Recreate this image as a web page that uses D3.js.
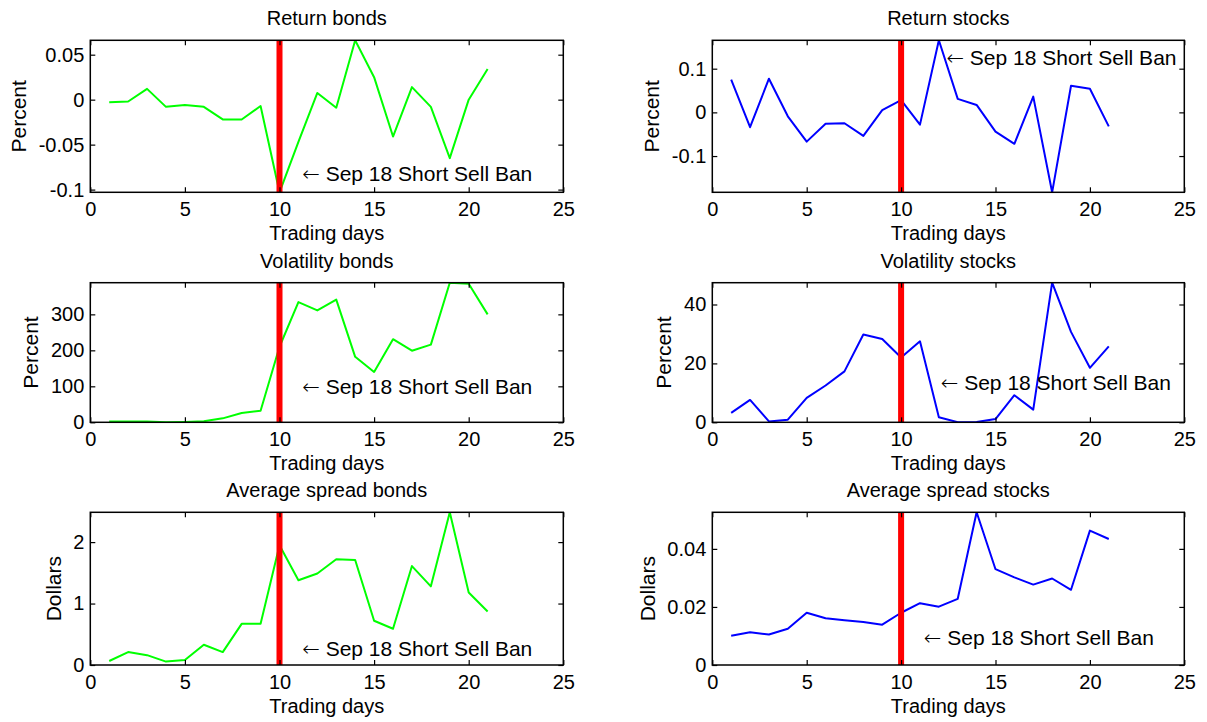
<!DOCTYPE html>
<html>
<head>
<meta charset="utf-8">
<script src="https://cdn.jsdelivr.net/npm/d3@7"></script>
<style>
  html, body { margin: 0; padding: 0; background: #fff; }
  svg { display: block; font-family: "Liberation Sans", Arial, sans-serif; }
</style>
</head>
<body>
<svg id="chart" width="1207" height="722"></svg>
<script>
// ---------- data ----------
const days = [1, 2, 3, 4, 5, 6, 7, 8, 9, 10, 11, 12, 13, 14, 15, 16, 17, 18, 19, 20, 21];
const returnBonds  = [-0.003, -0.002, 0.012, -0.008, -0.006, -0.008, -0.022, -0.022, -0.007, -0.103, -0.047, 0.0075, -0.009, 0.066, 0.025, -0.041, 0.014, -0.008, -0.065, 0.0, 0.034];
const returnStocks = [0.075, -0.034, 0.077, -0.009, -0.067, -0.026, -0.025, -0.054, 0.005, 0.028, -0.028, 0.165, 0.031, 0.017, -0.044, -0.072, 0.036, -0.183, 0.061, 0.054, -0.032];
const volBonds     = [2, 2, 2, 0, 1, 3, 11, 26, 32, 210, 334, 311, 341, 182, 140, 231, 199, 216, 388, 385, 300];
const volStocks    = [3.2, 7.6, 0.3, 0.9, 8.3, 12.5, 17.3, 29.8, 28.3, 22.0, 27.5, 1.7, 0.05, 0.1, 1.1, 9.2, 4.3, 47.4, 30.7, 18.5, 25.8];
const spreadBonds  = [0.065, 0.21, 0.16, 0.055, 0.08, 0.33, 0.21, 0.67, 0.67, 1.95, 1.38, 1.49, 1.72, 1.71, 0.72, 0.59, 1.61, 1.28, 2.485, 1.18, 0.87];
const spreadStocks = [0.0101, 0.0113, 0.0105, 0.0125, 0.018, 0.0161, 0.0154, 0.0148, 0.0139, 0.018, 0.0213, 0.0201, 0.0228, 0.0526, 0.033, 0.0302, 0.0277, 0.0298, 0.0259, 0.0463, 0.0434];

const xTicks = [0, 5, 10, 15, 20, 25];
const xDomain = [0, 25];
const ticksReturnBonds  = [-0.1, -0.05, 0, 0.05];
const ticksReturnStocks = [-0.1, 0, 0.1];
const ticksVolBonds     = [0, 100, 200, 300];
const ticksVolStocks    = [0, 20, 40];
const ticksSpreadBonds  = [0, 1, 2];
const ticksSpreadStocks = [0, 0.02, 0.04];

const titles  = ["Return bonds", "Return stocks", "Volatility bonds", "Volatility stocks", "Average spread bonds", "Average spread stocks"];
const yLabels = ["Percent", "Percent", "Percent", "Percent", "Dollars", "Dollars"];
const xLabel = "Trading days";
const banDay = 10;
const banArrow = "\u2190";
const banText = " Sep 18 Short Sell Ban";
const annotX = [11.2, 12.4, 11.2, 12.1, 11.2, 11.2];
const annotY = [-0.082, 0.125, 99, 13.6, 0.26, 0.0095];

// ---------- layout ----------
const colX = [[90.3, 563.3], [712.3, 1184.3]];
const rowY = [[40.3, 192.3], [282.7, 422.3], [512.3, 665]];
const GREEN = "#00ff00", BLUE = "#0000ff", RED = "#ff0000";
const FS = 20;

const panels = [
  { values: returnBonds,  ticks: ticksReturnBonds,  color: GREEN, col: 0, row: 0 },
  { values: returnStocks, ticks: ticksReturnStocks, color: BLUE,  col: 1, row: 0 },
  { values: volBonds,     ticks: ticksVolBonds,     color: GREEN, col: 0, row: 1 },
  { values: volStocks,    ticks: ticksVolStocks,    color: BLUE,  col: 1, row: 1 },
  { values: spreadBonds,  ticks: ticksSpreadBonds,  color: GREEN, col: 0, row: 2 },
  { values: spreadStocks, ticks: ticksSpreadStocks, color: BLUE,  col: 1, row: 2 }
];

const svg = d3.select("#chart");
const defs = svg.append("defs");

panels.forEach((p, i) => {
  const [x0, x1] = colX[p.col];
  const [y0, y1] = rowY[p.row];
  const x = d3.scaleLinear().domain(xDomain).range([x0, x1]);
  const lo = Math.min(0, d3.min(p.values));
  const hi = d3.max(p.values);
  const y = d3.scaleLinear().domain([lo, hi]).range([y1, y0]);

  const g = svg.append("g");

  defs.append("clipPath").attr("id", "clip" + i)
    .append("rect").attr("x", x0).attr("y", y0).attr("width", x1 - x0).attr("height", y1 - y0);

  // data line
  const line = d3.line().x((d, j) => x(days[j])).y(d => y(d));
  g.append("path")
    .datum(p.values)
    .attr("clip-path", "url(#clip" + i + ")")
    .attr("fill", "none")
    .attr("stroke", p.color)
    .attr("stroke-width", 2)
    .attr("stroke-linejoin", "round")
    .attr("d", line);

  // ban line
  g.append("line")
    .attr("x1", x(banDay)).attr("x2", x(banDay))
    .attr("y1", y0).attr("y2", y1)
    .attr("stroke", RED).attr("stroke-width", 6);

  // axes
  const styleAxis = sel => {
    sel.select(".domain").remove();
    sel.selectAll(".tick line").attr("stroke", "#000").attr("stroke-width", 1.2);
    sel.selectAll(".tick text").attr("fill", "#000").style("font-size", FS + "px");
  };
  g.append("g").attr("transform", `translate(0,${y1})`)
    .call(d3.axisBottom(x).tickValues(xTicks).tickSize(-5).tickSizeOuter(0).tickPadding(10).tickFormat(d => String(d)))
    .call(styleAxis);
  g.append("g").attr("transform", `translate(0,${y0})`)
    .call(d3.axisTop(x).tickValues(xTicks).tickSize(-5).tickSizeOuter(0).tickFormat(""))
    .call(styleAxis);
  const leftAxis = g.append("g").attr("transform", `translate(${x0},0)`)
    .call(d3.axisLeft(y).tickValues(p.ticks).tickSize(-5).tickSizeOuter(0).tickPadding(6).tickFormat(d => String(d)))
    .call(styleAxis);
  g.append("g").attr("transform", `translate(${x1},0)`)
    .call(d3.axisRight(y).tickValues(p.ticks).tickSize(-5).tickSizeOuter(0).tickFormat(""))
    .call(styleAxis);

  // frame
  g.append("rect")
    .attr("x", x0).attr("y", y0).attr("width", x1 - x0).attr("height", y1 - y0)
    .attr("fill", "none").attr("stroke", "#000").attr("stroke-width", 1.5);

  // title
  g.append("text")
    .attr("x", (x0 + x1) / 2).attr("y", y0 - 22).attr("dy", "0.35em")
    .attr("text-anchor", "middle").style("font-size", FS + "px")
    .text(titles[i]);

  // x label
  g.append("text")
    .attr("x", (x0 + x1) / 2).attr("y", y1 + 41).attr("dy", "0.35em")
    .attr("text-anchor", "middle").style("font-size", FS + "px")
    .text(xLabel);

  // y label
  let minX = Infinity;
  leftAxis.selectAll(".tick text").each(function () {
    const b = this.getBBox();
    minX = Math.min(minX, b.x);
  });
  const lx = x0 + minX - 20;
  g.append("text")
    .attr("transform", `translate(${lx},${(y0 + y1) / 2}) rotate(-90)`)
    .attr("dy", "0.35em")
    .attr("text-anchor", "middle").style("font-size", "21px")
    .text(yLabels[i]);

  // annotation
  const ann = g.append("text")
    .attr("x", x(annotX[i])).attr("y", y(annotY[i])).attr("dy", "0.35em")
    .attr("text-anchor", "start").style("font-size", "21px");
  ann.append("tspan").style("font-family", "'DejaVu Sans'").style("font-weight", "300").text(banArrow);
  ann.append("tspan").text(banText);
});
</script>
</body>
</html>
